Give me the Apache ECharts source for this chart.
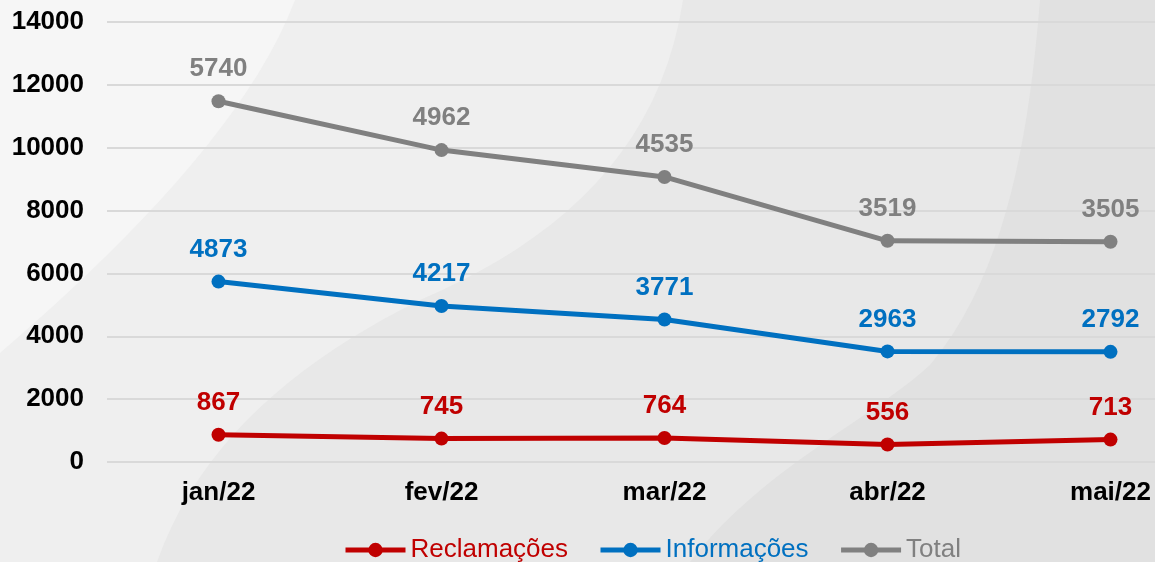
<!DOCTYPE html>
<html>
<head>
<meta charset="utf-8">
<script src="https://cdn.jsdelivr.net/npm/echarts@6/dist/echarts.min.js"></script>
<style>
    html, body { margin: 0; padding: 0; }
    #chart { width: 1155px; height: 562px; }
</style>
</head>
<body>
<div id="chart"></div>
<script>
    // dados
    const months = ['jan/22', 'fev/22', 'mar/22', 'abr/22', 'mai/22'];
    const reclamacoes = [867, 745, 764, 556, 713];
    const informacoes = [4873, 4217, 3771, 2963, 2792];
    const total = [5740, 4962, 4535, 3519, 3505];
    const yTicks = [0, 2000, 4000, 6000, 8000, 10000, 12000, 14000];

    const FONT = "'Liberation Sans', Arial, sans-serif";
    const RED = '#C00000', BLUE = '#0070C0', GRAY = '#808080';

    // curvas do fundo: amostra segmentos bezier cubicos em pontos de poligono
    function bezierPts(segs) {
        const pts = [];
        segs.forEach(function (s) {
            for (let i = 0; i <= 20; i++) {
                const t = i / 20, u = 1 - t;
                pts.push([
                    u*u*u*s[0][0] + 3*u*u*t*s[1][0] + 3*u*t*t*s[2][0] + t*t*t*s[3][0],
                    u*u*u*s[0][1] + 3*u*u*t*s[1][1] + 3*u*t*t*s[2][1] + t*t*t*s[3][1]
                ]);
            }
        });
        return pts;
    }
    function bgShape(start, segs, end, fill, z) {
        return {
            type: 'polygon', z: z, silent: true,
            shape: { points: start.concat(bezierPts(segs), end) },
            style: { fill: fill }
        };
    }

    function lineSeries(name, data, color) {
        return {
            name: name,
            type: 'line',
            stack: 'total',
            data: data,
            symbol: 'circle',
            symbolSize: 14,
            itemStyle: { color: color },
            lineStyle: { color: color, width: 5 },
            label: {
                show: true,
                position: 'top',
                distance: 12,
                color: color,
                fontFamily: FONT,
                fontWeight: 'bold',
                fontSize: 26
            },
            z: 5
        };
    }

    const chart = echarts.init(document.getElementById('chart'));
    chart.setOption({
        backgroundColor: '#e1e1e1',
        animation: false,
        graphic: [
            bgShape([[0, 0]], [
                [[1040, 0], [1030, 120], [1010, 270], [930, 365]],
                [[930, 365], [870, 420], [760, 470], [690, 562]]
            ], [[0, 562]], '#e8e8e8', -10),
            bgShape([[0, 0]], [
                [[683, 0], [660, 150], [560, 240], [420, 300]],
                [[420, 300], [300, 360], [200, 440], [157, 562]]
            ], [[0, 562]], '#efefef', -9),
            bgShape([[0, 0]], [
                [[295, 0], [250, 120], [120, 250], [0, 353]]
            ], [], '#f6f6f6', -8)
        ],
        grid: {
            left: 107,
            top: 22,
            width: 1115,
            height: 440,
            outerBoundsMode: 'none'
        },
        legend: {
            left: 338,
            top: 532,
            itemWidth: 60,
            itemHeight: 18,
            itemGap: 30,
            lineStyle: { width: 5 },
            data: [
                { name: 'Reclamações', textStyle: { color: RED } },
                { name: 'Informações', textStyle: { color: BLUE } },
                { name: 'Total', textStyle: { color: GRAY } }
            ],
            textStyle: { fontFamily: FONT, fontSize: 26 }
        },
        xAxis: {
            type: 'category',
            data: months,
            boundaryGap: true,
            axisLine: { show: false },
            axisTick: { show: false },
            axisLabel: {
                color: '#000',
                fontFamily: FONT,
                fontWeight: 'bold',
                fontSize: 26,
                margin: 18
            }
        },
        yAxis: {
            type: 'value',
            min: yTicks[0],
            max: yTicks[yTicks.length - 1],
            interval: 2000,
            axisLine: { show: false },
            axisTick: { show: false },
            splitLine: { lineStyle: { color: '#d9d9d9', width: 2 } },
            axisLabel: {
                color: '#000',
                fontFamily: FONT,
                fontWeight: 'bold',
                fontSize: 26,
                margin: 23,
                formatter: function (value) {
                    return String(value);
                }
            }
        },
        series: [
            lineSeries('Reclamações', reclamacoes, RED),
            lineSeries('Informações', informacoes, BLUE),
            lineSeries('Total', total, GRAY)
        ]
    });
</script>
</body>
</html>
